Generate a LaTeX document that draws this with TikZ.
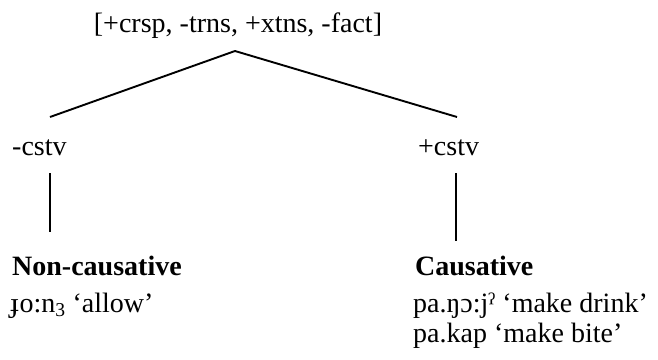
\documentclass[tikz,border=0pt]{standalone}
\usepackage{fontspec}
\setmainfont{Liberation Serif}
\begin{document}
\begin{tikzpicture}[x=1pt,y=-1pt,
  lbl/.style={anchor=base west,inner sep=0pt,font=\fontsize{28}{32}\selectfont},
  bold/.style={lbl,font=\fontsize{28}{32}\selectfont\bfseries},
  branch/.style={line width=1.9pt},
  stem/.style={line width=1.5pt}]
\useasboundingbox (0,0) rectangle (658,359);
% root feature bundle
\node[lbl,anchor=base] (root) at (238,32) {[+crsp, -trns, +xtns, -fact]};
\coordinate (apex) at (235,51);
\coordinate (lend) at (50,117);
\coordinate (rend) at (457,117);
\draw[branch] (lend) -- (apex) -- (rend);
% daughters
\node[lbl] (neg) at (12,155) {-cstv};
\node[lbl] (pos) at (418,155) {+cstv};
\coordinate (ltop) at (50,173);
\coordinate (lbot) at (50,232);
\coordinate (rtop) at (456,173);
\coordinate (rbot) at (456,241);
\draw[stem] (ltop) -- (lbot);
\draw[stem] (rtop) -- (rbot);
% leaves
\node[bold] (noncaus) at (12,275) {Non-causative};
\node[lbl] (ex1) at (10,312) {ɟo:n\textsubscript{3} ‘allow’};
\node[bold] (caus) at (415,275) {Causative};
\node[lbl] (ex2) at (413,312) {pa.ŋɔ:jˀ ‘make drink’};
\node[lbl] (ex3) at (413,342) {pa.kap ‘make bite’};
\end{tikzpicture}
\end{document}
